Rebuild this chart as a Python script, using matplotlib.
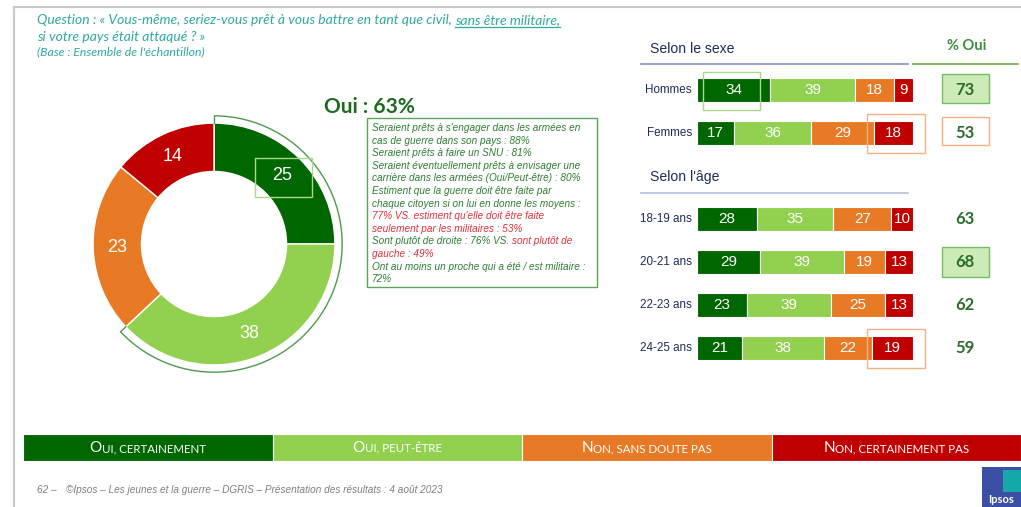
import numpy as np
import matplotlib.pyplot as plt
from matplotlib import font_manager
from matplotlib.patches import Rectangle, Arc

W, H = 1021, 507

# Data
categories = ["Oui, certainement", "Oui, peut-être", "Non, sans doute pas", "Non, certainement pas"]
total = [25, 38, 23, 14]
sexe_labels = ["Hommes", "Femmes"]
sexe_values = [[34, 39, 18, 9], [17, 36, 29, 18]]
age_labels = ["18-19 ans", "20-21 ans", "22-23 ans", "24-25 ans"]
age_values = [[28, 35, 27, 10], [29, 39, 19, 13], [23, 39, 25, 13], [21, 38, 22, 19]]

# Colours
colors = ["#006600", "#92D050", "#E97A25", "#C00000"]
NAVY = "#1F2D5C"
TEAL = "#2FA9A1"
GREEN_TXT = "#2E7D32"
RED_TXT = "#E0303A"

# Fonts (narrow Arial look if available)
installed = {f.name for f in font_manager.fontManager.ttflist}
if "Liberation Sans Narrow" in installed:
    NARROW, NSCALE = ["Liberation Sans Narrow", "DejaVu Sans"], 1.0
else:
    NARROW, NSCALE = ["Liberation Sans", "DejaVu Sans"], 0.84
ARIAL = ["Liberation Sans", "DejaVu Sans"]
CAL = ["Lato", "DejaVu Sans"]

notes = [
    [("Seraient prêts à s'engager dans les armées en", GREEN_TXT)],
    [("cas de guerre dans son pays : 88%", GREEN_TXT)],
    [("Seraient prêts à faire un SNU : 81%", GREEN_TXT)],
    [("Seraient éventuellement prêts à envisager une", GREEN_TXT)],
    [("carrière dans les armées (Oui/Peut-être) : 80%", GREEN_TXT)],
    [("Estiment que la guerre doit être faite par", GREEN_TXT)],
    [("chaque citoyen si on lui en donne les moyens :", GREEN_TXT)],
    [("77% VS. estiment qu'elle doit être faite", RED_TXT)],
    [("seulement par les militaires : 53%", RED_TXT)],
    [("Sont plutôt de droite : 76% VS. ", GREEN_TXT), ("sont plutôt de", RED_TXT)],
    [("gauche : 49%", RED_TXT)],
    [("Ont au moins un proche qui a été / est militaire :", GREEN_TXT)],
    [("72%", GREEN_TXT)],
]

fig = plt.figure(figsize=(W / 100, H / 100), dpi=100)
fig.patch.set_facecolor("white")

# Overlay axes in pixel units for slide decorations
ov = fig.add_axes([0, 0, 1, 1], zorder=5)
ov.set_xlim(0, W)
ov.set_ylim(H, 0)
ov.axis("off")
renderer = fig.canvas.get_renderer()


def text_width(s, **kw):
    # advance width of s in pixels (a sentinel keeps trailing spaces)
    t = ov.text(0, 0, s + "|", **kw)
    w = t.get_window_extent(renderer).width
    t.set_text("|")
    w -= t.get_window_extent(renderer).width
    t.remove()
    return w


def draw_runs(x, y, parts, **kw):
    pos = x
    spans = []
    for s, c in parts:
        ov.text(pos, y, s, color=c, va="baseline", ha="left", **kw)
        w = text_width(s, **kw)
        spans.append((pos, pos + w))
        pos += w
    return spans


# slide frame
ov.plot([14, 14], [7, H], color="#C8C8C8", lw=1.5)
ov.plot([14, W], [7, 7], color="#C8C8C8", lw=1.5)

# question
qkw = dict(fontsize=10, style="italic", family=CAL)
spans = draw_runs(37, 24, [("Question : « Vous-même, seriez-vous prêt à vous battre en tant que civil, ", TEAL),
                           ("sans être militaire,", TEAL)], **qkw)
ov.plot([spans[1][0], spans[1][1]], [27, 27], color=TEAL, lw=0.9)
draw_runs(37, 41, [("si votre pays était attaqué ? »", TEAL)], **qkw)
draw_runs(37, 55, [("(Base : Ensemble de l'échantillon)", TEAL)], fontsize=8.8, style="italic", family=CAL)

# ---- donut
ax_d = fig.add_axes([81 / W, 1 - 377 / H, 266 / W, 266 / H])
wedges, _, autotexts = ax_d.pie(
    total, colors=colors, startangle=90, counterclock=False, radius=1,
    wedgeprops=dict(width=0.4, edgecolor="white", linewidth=1),
    autopct=lambda p: f"{p:.0f}", pctdistance=0.8,
    textprops=dict(color="white", fontsize=13, family=ARIAL))
ax_d.set_xlim(-1.1, 1.1)
ax_d.set_ylim(-1.1, 1.1)
ax_d.set_aspect("equal")

oui_total = total[0] + total[1]
r_br = 1.06
end_ang = 90 - oui_total * 3.6
ax_d.add_patch(Arc((0, 0), 2 * r_br, 2 * r_br, theta1=end_ang, theta2=90, color="#4E9A4E", lw=1, clip_on=False))
for a in np.radians([90, end_ang]):
    ax_d.plot([np.cos(a), r_br * np.cos(a)], [np.sin(a), r_br * np.sin(a)], color="#4E9A4E", lw=1, clip_on=False)

ov.add_patch(Rectangle((255, 158), 57, 39, fill=False, ec="#A9D98B", lw=1))

ov.text(369, 107, f"Oui : {oui_total}%", fontsize=15, fontweight="bold", color="#1E6B1E",
        family=CAL, ha="center", va="center")

# notes box
ov.add_patch(Rectangle((367, 118), 230, 169, fill=False, ec="#5BA55B", lw=1))
nkw = dict(fontsize=8.6 * NSCALE, style="italic", family=NARROW)
for i, line in enumerate(notes):
    draw_runs(372, 131 + i * 12.6, line, **nkw)

# ---- stacked bars
ax_b = fig.add_axes([697 / W, 1 - 369.5 / H, 216 / W, 301 / H])
rows = [0, 1, 3, 4, 5, 6]
row_labels = sexe_labels + age_labels
values = np.array(sexe_values + age_values)
left = np.zeros(len(rows))
for k in range(len(categories)):
    bars = ax_b.barh(rows, values[:, k], left=left, height=0.57, color=colors[k],
                     edgecolor="white", linewidth=0.8)
    ax_b.bar_label(bars, labels=[str(v) for v in values[:, k]], label_type="center",
                   color="white", fontsize=11, family=ARIAL)
    left += values[:, k]
ax_b.set_xlim(0, 100)
ax_b.set_ylim(6.5, -0.5)
ax_b.axis("off")

for r, lab in zip(rows, row_labels):
    ax_b.text(-2.3, r, lab, ha="right", va="center", fontsize=10 * NSCALE, color=NAVY, family=NARROW)

# % Oui column
pct_oui = values[:, 0] + values[:, 1]
for r, v in zip(rows, pct_oui):
    ax_b.text(124.1, r, str(v), ha="center", va="center", fontsize=12, fontweight="bold",
              color="#2E6B2E", family=CAL)

# highlight boxes
box_kw = dict(clip_on=False, lw=1)
ax_b.add_patch(Rectangle((2.8, -0.42), 26.4, 0.89, fill=False, ec="#A9D98B", **box_kw))
ax_b.add_patch(Rectangle((78.7, 0.56), 26.9, 0.91, fill=False, ec="#F4B183", **box_kw))
ax_b.add_patch(Rectangle((78.7, 5.56), 26.9, 0.91, fill=False, ec="#F4B183", **box_kw))
ax_b.add_patch(Rectangle((113.4, -0.37), 21.8, 0.67, fc="#CDEBB8", ec="#70C060", zorder=0, **box_kw))
ax_b.add_patch(Rectangle((113.4, 0.63), 21.8, 0.65, fc="white", ec="#F4B183", zorder=0, **box_kw))
ax_b.add_patch(Rectangle((113.4, 3.65), 21.8, 0.70, fc="#CDEBB8", ec="#70C060", zorder=0, **box_kw))

# headers
ov.text(650, 53, "Selon le sexe", fontsize=12 * NSCALE, color=NAVY, family=NARROW, va="baseline")
ov.plot([641, 908], [64, 64], color="#7F95C8", lw=1.2)
ov.text(967, 50, "% Oui", fontsize=10.5, fontweight="bold", color="#3E8E3E", family=CAL,
        ha="center", va="baseline")
ov.plot([913, 1018], [64, 64], color="#70AD47", lw=1.2)
ov.text(650, 181, "Selon l'âge", fontsize=12 * NSCALE, color=NAVY, family=NARROW, va="baseline")
ov.plot([641, 908], [193, 193], color="#B4C0DD", lw=1.2)

# ---- legend band (small caps)
seg_w = (W - 23) / 4
for k, name in enumerate(categories):
    x0 = 23 + k * seg_w
    ov.add_patch(Rectangle((x0, 434), seg_w, 27, fc=colors[k], ec="white", lw=0.8))
    big, small = name[0], name[1:].upper()
    big_kw = dict(fontsize=11, family=CAL)
    small_kw = dict(fontsize=8.3, family=CAL)
    wb, ws = text_width(big, **big_kw), text_width(small, **small_kw)
    start = x0 + seg_w / 2 - (wb + ws) / 2
    ov.text(start, 452, big, color="white", va="baseline", **big_kw)
    ov.text(start + wb, 452, small, color="white", va="baseline", **small_kw)

# footer
fkw = dict(fontsize=8.6 * NSCALE, style="italic", family=NARROW, color="#7F7F7F", va="baseline")
ov.text(37, 493, "62 –", **fkw)
ov.text(66, 493, "©Ipsos – Les jeunes et la guerre – DGRIS – Présentation des résultats : 4 août 2023", **fkw)

# Ipsos logo
ov.add_patch(Rectangle((982, 467), 39, 40, fc="#3B4FA5", ec="none"))
ov.add_patch(Rectangle((1003, 470), 18, 22, fc="#14A8A8", ec="none"))
ov.text(1001, 503, "Ipsos", color="white", fontsize=8, fontweight="bold", family=CAL,
        ha="center", va="baseline")

fig.savefig("out.png", dpi=100)
